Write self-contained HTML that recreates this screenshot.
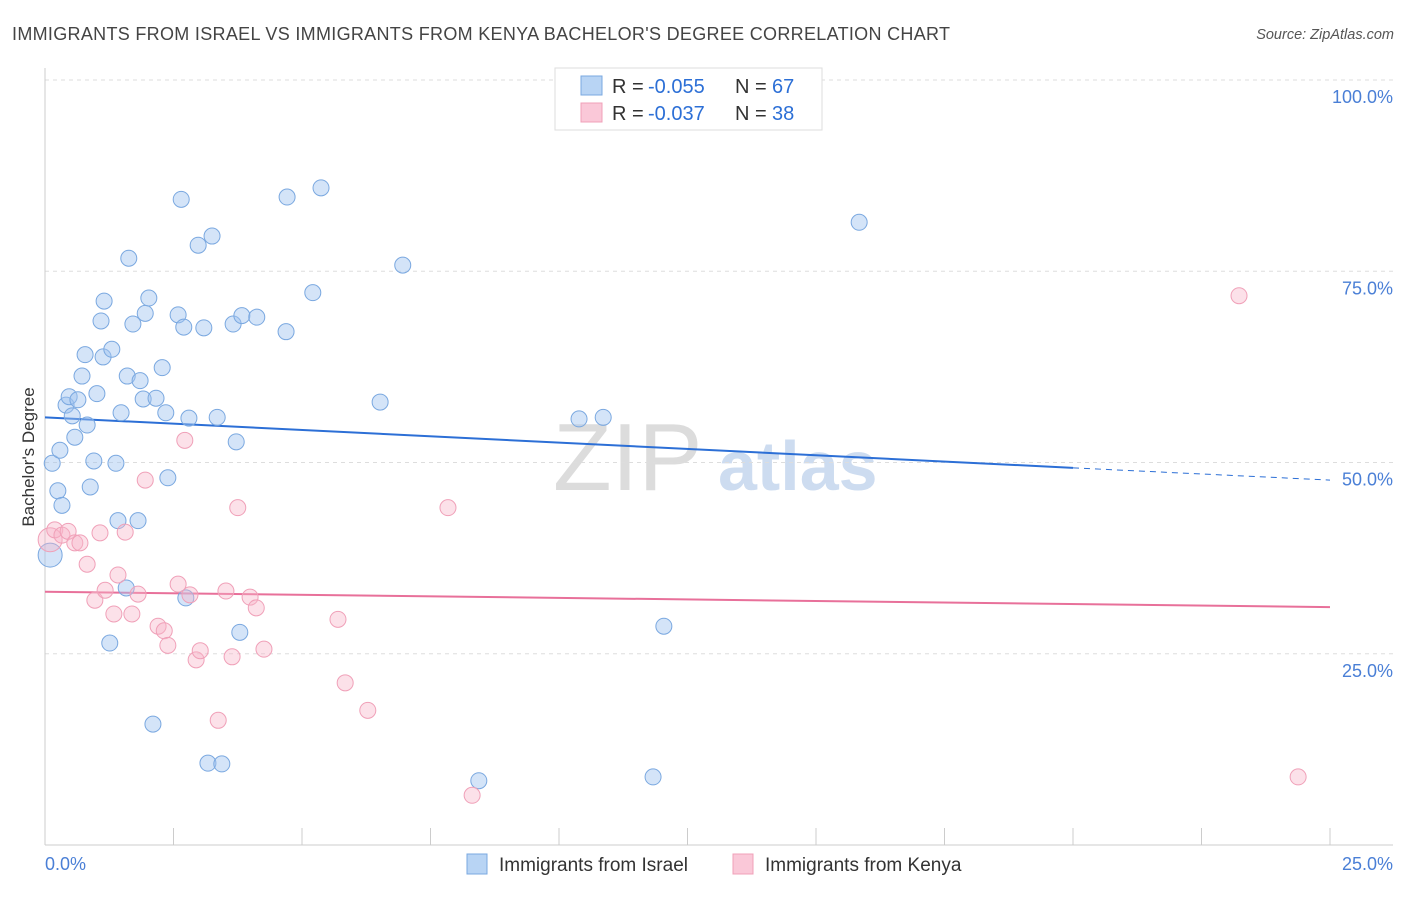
<!DOCTYPE html>
<html><head><meta charset="utf-8"><style>
body{margin:0;background:#fff;font-family:"Liberation Sans",sans-serif;}
svg text{font-family:"Liberation Sans",sans-serif;}
</style></head><body>
<svg id="chart" width="1406" height="892" xmlns="http://www.w3.org/2000/svg">
<text x="12" y="40" font-size="18" fill="#444" textLength="938" lengthAdjust="spacing">IMMIGRANTS FROM ISRAEL VS IMMIGRANTS FROM KENYA BACHELOR'S DEGREE CORRELATION CHART</text>
<text x="1394" y="39" font-size="14.5" fill="#555" text-anchor="end" font-style="italic">Source: ZipAtlas.com</text>
<g>
<text x="553" y="490" font-size="96" fill="#dcdcdc" font-family="Liberation Serif,serif">ZIP</text>
<text x="718" y="490" font-size="70" fill="#cddcf0" font-weight="bold">atlas</text>
</g>
<g id="grid"></g>
<g id="axes"></g>
<g id="lines"></g>
<g id="points"></g>
<text transform="translate(34,457) rotate(-90)" font-size="17" fill="#333" text-anchor="middle">Bachelor's Degree</text>
<g>
<rect x="555" y="68" width="267" height="62" fill="#fff" stroke="#ddd"/>
<rect x="581" y="76" width="21" height="19" fill="#b8d4f4" stroke="#7aa8e0"/>
<rect x="581" y="103" width="21" height="19" fill="#fac8d8" stroke="#f0a0b8"/>
<text x="612" y="93" font-size="20" fill="#333">R = </text>
<text x="648" y="93" font-size="20" fill="#2c6fd6">-0.055</text>
<text x="735" y="93" font-size="20" fill="#333">N = </text>
<text x="772" y="93" font-size="20" fill="#2c6fd6">67</text>
<text x="612" y="120" font-size="20" fill="#333">R = </text>
<text x="648" y="120" font-size="20" fill="#2c6fd6">-0.037</text>
<text x="735" y="120" font-size="20" fill="#333">N = </text>
<text x="772" y="120" font-size="20" fill="#2c6fd6">38</text>
</g>
<g>
<rect x="467" y="854" width="20" height="20" fill="#b8d4f4" stroke="#7aa8e0"/>
<text x="499" y="871" font-size="19" fill="#333">Immigrants from Israel</text>
<rect x="733" y="854" width="20" height="20" fill="#fac8d8" stroke="#f0a0b8"/>
<text x="765" y="871" font-size="19" fill="#333">Immigrants from Kenya</text>
</g>
</svg>
<script>
const israelX=[0.10,0.14,0.25,0.33,0.29,0.41,0.47,0.53,0.58,0.64,0.72,0.78,0.82,0.88,0.95,1.01,1.09,1.13,1.15,1.26,1.30,1.38,1.42,1.48,1.58,1.60,1.63,1.71,1.81,1.85,1.91,1.95,2.02,2.10,2.16,2.28,2.35,2.39,2.59,2.65,2.70,2.74,2.80,2.98,3.09,3.17,3.25,3.35,3.44,3.66,3.72,3.79,3.83,4.12,4.69,4.71,5.21,5.37,6.52,6.96,8.44,10.39,10.86,11.83,12.04,15.84];
const israelY=[37.9,49.9,46.3,44.4,51.6,57.5,58.6,56.1,53.3,58.2,61.3,64.1,54.9,46.8,50.2,59.0,68.5,63.8,71.1,26.4,64.8,49.9,42.4,56.5,33.6,61.3,76.7,68.1,42.4,60.7,58.3,69.5,71.5,15.8,58.4,62.4,56.5,48.0,69.3,84.4,67.7,32.3,55.8,78.4,67.6,10.7,79.6,55.9,10.6,68.1,52.7,27.8,69.2,69.0,67.1,84.7,72.2,85.9,57.9,75.8,8.4,55.7,55.9,8.9,28.6,81.4];
const kenyaX=[0.10,0.19,0.33,0.45,0.58,0.68,0.82,0.97,1.07,1.17,1.34,1.42,1.56,1.69,1.81,1.95,2.20,2.32,2.39,2.59,2.72,2.82,2.94,3.02,3.37,3.52,3.64,3.75,3.99,4.11,4.26,5.70,5.84,6.28,7.84,8.31,23.23,24.38];
const kenyaY=[39.9,41.2,40.5,41.0,39.5,39.5,36.7,32.0,40.8,33.3,30.2,35.3,40.9,30.2,32.8,47.7,28.6,28.0,26.1,34.1,52.9,32.7,24.2,25.4,16.3,33.2,24.6,44.1,32.4,31.0,25.6,29.5,21.2,17.6,44.1,6.5,71.8,8.9];
const israelTrend=[55.9,49.3,47.7]; // at x=0, 20, 25
const kenyaTrend=[33.1,31.1];       // at x=0, 25
const yTicks=[25,50,75,100];
const yTickLabels=["25.0%","50.0%","75.0%","100.0%"];
const xTicks=[0,2.5,5,7.5,10,12.5,15,17.5,20,22.5,25];

const X0=45,X1=1330,Y0=845,Y1=80;
const sx=v=>X0+(X1-X0)*v/25;
const sy=v=>Y0-(Y0-Y1)*v/100;
const NS="http://www.w3.org/2000/svg";
function mk(tag,attrs,parent){const e=document.createElementNS(NS,tag);for(const k in attrs)e.setAttribute(k,attrs[k]);document.getElementById(parent).appendChild(e);return e;}

yTicks.forEach((t,i)=>{
  const g=mk('line',{x1:X0,x2:1393,y1:sy(t),y2:sy(t),stroke:'#ddd','stroke-dasharray':'4,4'},'grid');
  
  
  const tx=mk('text',{x:1393,y:sy(t)+23,'font-size':18,fill:'#4a7fd6','text-anchor':'end'},'axes');
  tx.textContent=yTickLabels[i];
  
  
});
const ya=mk('line',{x1:X0,x2:X0,y1:68,y2:Y0,stroke:'#ccc'},'axes');


const xa=mk('line',{x1:X0,x2:1393,y1:Y0,y2:Y0,stroke:'#ccc'},'axes');


xTicks.forEach(t=>{
  const l=mk('line',{x1:sx(t),x2:sx(t),y1:828,y2:Y0,stroke:'#ccc'},'axes');
  
  
});
const xl0=mk('text',{x:45,y:870,'font-size':18,fill:'#4a7fd6'},'axes');xl0.textContent='0.0%';


const xl1=mk('text',{x:1393,y:870,'font-size':18,fill:'#4a7fd6','text-anchor':'end'},'axes');xl1.textContent='25.0%';



israelX.forEach((x,i)=>{
  const c=mk('circle',{cx:sx(x),cy:sy(israelY[i]),r:i===0?12:8,fill:'rgba(160,196,240,0.45)',stroke:'#7aa8e0','stroke-width':1},'points');
  
  
});
kenyaX.forEach((x,i)=>{
  const c=mk('circle',{cx:sx(x),cy:sy(kenyaY[i]),r:i===0?12:8,fill:'rgba(248,180,200,0.4)',stroke:'#f0a0b8','stroke-width':1},'points');
  
  
});
const l1=mk('line',{x1:sx(0),y1:sy(israelTrend[0]),x2:sx(20),y2:sy(israelTrend[1]),stroke:'#2c6fd6','stroke-width':2},'lines');


const l2=mk('line',{x1:sx(20),y1:sy(israelTrend[1]),x2:sx(25),y2:sy(israelTrend[2]),stroke:'#2c6fd6','stroke-width':1,'stroke-dasharray':'6,5'},'lines');


const l3=mk('line',{x1:sx(0),y1:sy(kenyaTrend[0]),x2:sx(25),y2:sy(kenyaTrend[1]),stroke:'#e8709a','stroke-width':2},'lines');


</script>
</body></html>
